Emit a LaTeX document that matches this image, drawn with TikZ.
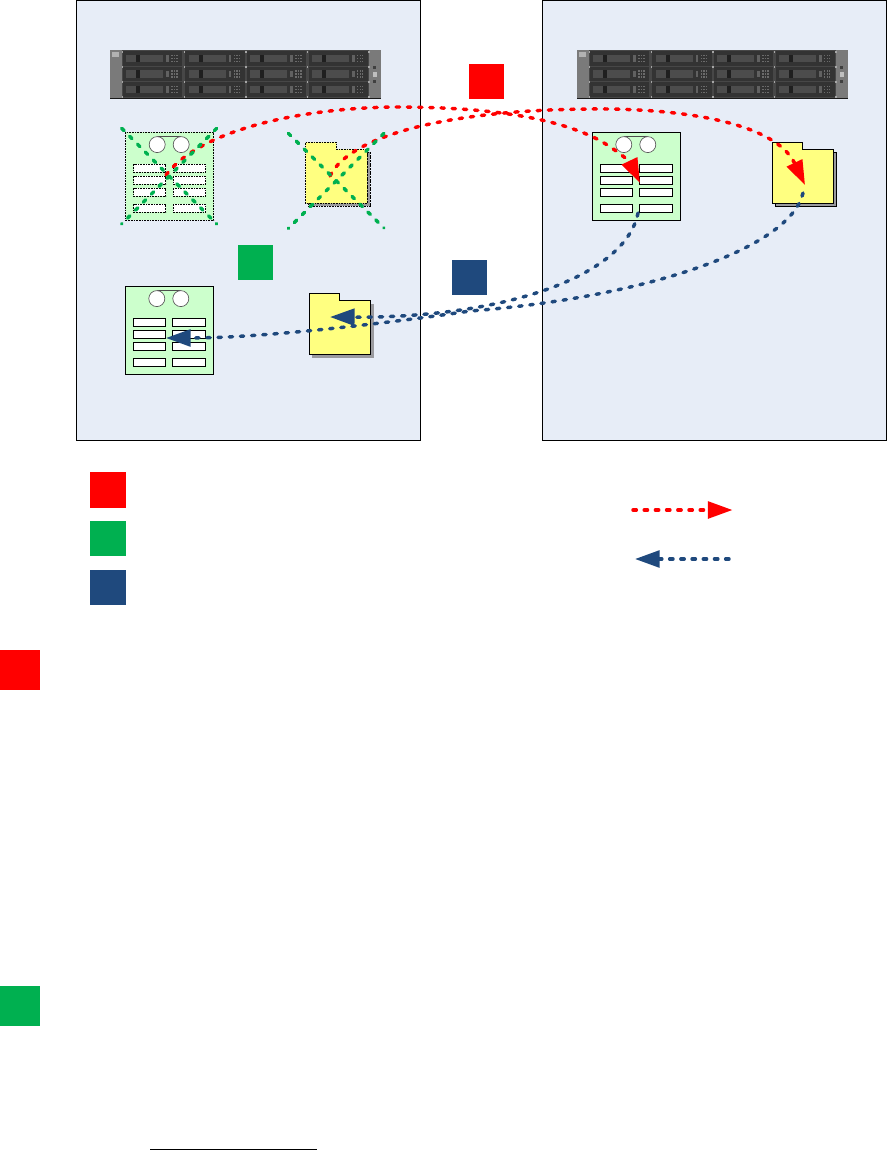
\documentclass[tikz,border=0pt]{standalone}
\usetikzlibrary{arrows.meta}
\definecolor{panelblue}{HTML}{E7EDF7}
\definecolor{formgreen}{HTML}{CCFFCC}
\definecolor{folderyellow}{HTML}{FFFF80}
\definecolor{shadowgray}{HTML}{9A9A9E}
\definecolor{navy}{HTML}{1F497D}
\definecolor{okgreen}{HTML}{00B050}
\definecolor{alertred}{HTML}{FF0000}
\tikzset{
  panel/.style={draw=black,line width=0.75pt,fill=panelblue,inner sep=0pt,minimum width=258pt,minimum height=330pt},
  marksq/.style={draw=none,inner sep=0pt,minimum size=26.25pt},
  bigsq/.style={draw=none,inner sep=0pt,minimum size=30pt},
  solidedge/.style={draw=black,line width=0.85pt},
  ghostedge/.style={draw=black,line width=0.8pt,dash pattern=on 1.3pt off 0.7pt},
  softshadow/.style={draw=none},
  ghostshadow/.style={draw=black,line width=0.8pt,dash pattern=on 1.3pt off 0.7pt},
  copyshadow/.style={draw=black,line width=0.5pt},
  flow/.style={line width=2.6pt,line cap=round,dash pattern=on 2.5pt off 5.9pt},
  redflow/.style={flow,draw=alertred,-{Triangle[length=18.4pt,width=12.5pt,fill=alertred,color=alertred]}},
  blueflow/.style={flow,draw=navy,-{Triangle[length=18.4pt,width=12.5pt,fill=navy,color=navy]}},
  crossout/.style={flow,draw=okgreen},
  pics/serverpic/.style={code={
    \fill[black!52] (0,0) rectangle (271,49);
    \fill[black!90] (0,48.2) rectangle (271,49.4);
    \fill[black!30] (2,2.5) rectangle (9,7.5);
    \fill[black!72] (12,0.8) rectangle (259,48);
    \foreach \cx in {12.3,74.7,136.3,198}{
      \foreach \cy in {1.7,17.4,32.7}{
        \fill[black!80] (\cx+0.5,\cy) rectangle (\cx+60,\cy+14.3);
        \fill[black!70] (\cx+4,\cy+3.5) rectangle (\cx+41,\cy+11);
        \fill[black!88] (\cx+14,\cy+3.5) rectangle (\cx+18,\cy+11);
        \fill[black!62] (\cx+44,\cy+4) rectangle (\cx+46.5,\cy+10.5);
        \foreach \dx in {49,51.5,54}{\foreach \dy in {3.5,6.5,9.5}{
          \fill[black!58] (\cx+\dx,\cy+\dy) rectangle (\cx+\dx+1.3,\cy+\dy+1.3);}}
      }
    }
    \foreach \tx in {12,73.6,135.4,197,258.3}{
      \foreach \ty in {1,16.2,31.6,46}{
        \fill[black!35] (\tx,\ty) rectangle (\tx+1.2,\ty+2.2);}}
    \fill[black!25] (263,22) rectangle (267,27);
    \fill[black!75] (263,16) rectangle (266,19);
    \fill[black!75] (263,30) rectangle (266,33);
  }},
  pics/formpic/.style={code={
    \draw[#1,fill=formgreen] (0,0) rectangle (88,88);
    \draw[black!70,line width=0.4pt] (31.5,4.2) -- (55.5,4.2);
    \draw[black!65,line width=0.5pt,fill=white] (31.5,12.3) circle (8);
    \draw[black!65,line width=0.5pt,fill=white] (55.5,12.3) circle (8);
    \foreach \ry in {32,44,56,72}{
      \draw[#1,fill=white] (7.8,\ry) rectangle (40,\ry+8);
      \draw[#1,fill=white] (47.6,\ry) rectangle (80,\ry+8);
    }
  }},
  pics/folderpic/.style 2 args={code={
    \draw[#2,fill=shadowgray] (3,10) -- (64.5,10) -- (64.5,64) -- (3,64) -- cycle;
    \draw[#1,fill=folderyellow] (0,0) -- (30.6,0) -- (30.6,7) -- (61.5,7) -- (61.5,61) -- (0,61) -- cycle;
  }}
}
\begin{document}
\begin{tikzpicture}[x=0.75pt,y=-0.75pt]
\useasboundingbox (0,0) rectangle (887,1150);
\fill[white] (0,0) rectangle (887,1150);

\node[panel] (sitea) at (248.75,220) {};
\node[panel] (siteb) at (714.5,220) {};

\pic at (110,49.5) {serverpic};
\pic at (577,49.5) {serverpic};

\pic at (125.7,132.3) {formpic=ghostedge};
\pic at (125.3,286.3) {formpic=solidedge};
\pic at (592.3,132.3) {formpic=solidedge};

\pic at (305.7,142.3) {folderpic={ghostedge}{ghostshadow}};
\pic at (309.3,293.8) {folderpic={solidedge}{softshadow}};
\pic at (772.3,142.3) {folderpic={solidedge}{copyshadow}};

\node[marksq,fill=alertred] (stepredtop) at (486.5,81.5) {};
\node[marksq,fill=okgreen] (stepgreentop) at (255.5,262.5) {};
\node[marksq,fill=navy] (stepbluetop) at (469.5,277) {};
\node[marksq,fill=alertred,minimum size=27pt] (legendred) at (108,490) {};
\node[marksq,fill=okgreen,minimum width=27pt] (legendgreen) at (108,538.7) {};
\node[marksq,fill=navy,minimum width=27pt] (legendblue) at (108,587.5) {};
\node[bigsq,fill=alertred] (bigred) at (20,669.5) {};
\node[bigsq,fill=okgreen] (biggreen) at (20,1005.5) {};

% named anchors of the connectors
\coordinate (formAout) at (166,175);
\coordinate (formBin) at (640,183);
\coordinate (folderAout) at (330,176);
\coordinate (folderBin) at (805,185);
\coordinate (formBout) at (638,213);
\coordinate (folderBout) at (803,193);
\coordinate (folderCin) at (330,317);
\coordinate (formCin) at (166,338);
\coordinate (legendredA) at (633,510);
\coordinate (legendredB) at (732.5,510);
\coordinate (legendblueA) at (729,559);
\coordinate (legendblueB) at (635,559);
\coordinate (xa) at (121.7,128.3);
\coordinate (xb) at (216.7,224);
\coordinate (xc) at (216.7,128.3);
\coordinate (xd) at (121.7,224);
\coordinate (ya) at (288.3,133.3);
\coordinate (yb) at (384,228);
\coordinate (yc) at (384,133.3);
\coordinate (yd) at (288.3,228.5);
\coordinate (notea) at (150,1149.3);
\coordinate (noteb) at (317,1149.3);

\draw[redflow] (formAout) .. controls (200,130) and (300,108) .. (395,107) .. controls (460,107) and (540,112) .. (593,137) .. controls (612,146) and (630,162) .. (formBin);
\draw[redflow] (folderAout) .. controls (350,135) and (450,110) .. (590,109) .. controls (680,108) and (775,122) .. (folderBin);
\draw[blueflow] (formBout) .. controls (625,278) and (500,318) .. (folderCin);
\draw[blueflow] (folderBout) .. controls (790,250) and (640,298) .. (470,311) .. controls (410,320) and (270,338) .. (formCin);

\draw[crossout] (xa) -- (xb);
\draw[crossout] (xc) -- (xd);
\draw[crossout] (ya) -- (yb);
\draw[crossout] (yc) -- (yd);

\draw[redflow] (legendredA) -- (legendredB);
\draw[blueflow] (legendblueA) -- (legendblueB);

\draw[black,line width=0.75pt] (notea) -- (noteb);
\end{tikzpicture}
\end{document}
